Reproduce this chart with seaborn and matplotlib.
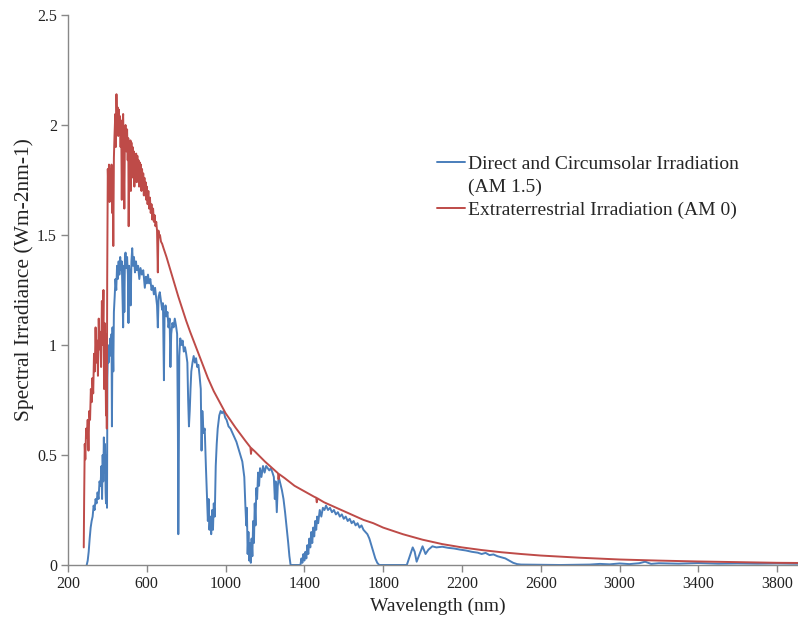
import matplotlib
matplotlib.use("Agg")
import matplotlib.pyplot as plt
import seaborn as sns
import pandas as pd
from matplotlib.lines import Line2D
from matplotlib.ticker import FuncFormatter

# Extraterrestrial irradiation (AM 0)
am0_wl = [280, 282, 285, 288, 292, 296, 300, 304, 308, 312, 316, 320, 324, 328, 332, 336,
          340, 344, 348, 352, 356, 360, 364, 368, 372, 376, 380, 383, 386, 390, 393, 395,
          397, 399, 402, 405, 408, 411, 414, 418, 421, 424, 427, 430, 433, 436, 440, 443,
          446, 449, 452, 455, 458, 461, 464, 467, 470, 473, 476, 480, 483, 486, 489, 492,
          496, 500, 503, 506, 508, 511, 514, 517, 519, 522, 525, 528, 531, 534, 537, 540,
          543, 546, 549, 552, 555, 558, 561, 564, 567, 570, 573, 576, 579, 582, 585, 588,
          591, 594, 597, 600, 604, 608, 612, 616, 620, 624, 628, 632, 636, 640, 644, 648,
          652, 656, 659, 663, 667, 672, 678, 685, 700, 720, 740, 760, 780, 800, 820, 850,
          880, 910, 940, 970, 1000, 1050, 1100, 1126, 1129, 1132, 1150, 1200, 1250, 1266, 1269, 1272,
          1300, 1350, 1400, 1450, 1460, 1463, 1466, 1500, 1550, 1600, 1650, 1700, 1750, 1800, 1900, 2000,
          2100, 2200, 2300, 2400, 2500, 2600, 2800, 3000, 3200, 3400, 3600, 3800, 3950]
am0_irr = [0.08, 0.30, 0.55, 0.48, 0.62, 0.58, 0.66, 0.52, 0.70, 0.66, 0.80, 0.74, 0.85, 0.78, 0.96, 0.88,
           1.08, 0.92, 1.02, 0.86, 1.12, 0.98, 1.06, 0.90, 1.20, 1.00, 1.25, 0.80, 1.10, 0.95, 0.68, 1.05,
           0.62, 1.30, 1.80, 1.70, 1.82, 1.65, 1.80, 1.72, 1.82, 1.60, 1.78, 1.45, 1.85, 1.95, 2.05, 1.90,
           2.14, 2.00, 2.08, 1.95, 2.07, 1.98, 2.04, 1.90, 2.02, 1.66, 1.98, 2.05, 1.85, 1.62, 1.96, 2.00,
           1.88, 1.98, 1.84, 1.94, 1.54, 1.90, 1.80, 1.93, 1.70, 1.92, 1.78, 1.90, 1.76, 1.88, 1.72, 1.86,
           1.78, 1.87, 1.74, 1.86, 1.78, 1.84, 1.72, 1.83, 1.76, 1.82, 1.70, 1.80, 1.73, 1.78, 1.68, 1.76,
           1.68, 1.74, 1.66, 1.72, 1.64, 1.70, 1.62, 1.67, 1.60, 1.64, 1.57, 1.62, 1.56, 1.59, 1.54, 1.56,
           1.52, 1.33, 1.52, 1.49, 1.50, 1.47, 1.46, 1.44, 1.40, 1.34, 1.28, 1.22, 1.165, 1.11, 1.06, 0.99,
           0.92, 0.85, 0.79, 0.74, 0.69, 0.625, 0.565, 0.535, 0.505, 0.53, 0.515, 0.47, 0.43, 0.417, 0.39, 0.413,
           0.395, 0.36, 0.335, 0.31, 0.306, 0.285, 0.303, 0.285, 0.265, 0.245, 0.225, 0.205, 0.19, 0.17, 0.14, 0.115,
           0.095, 0.08, 0.068, 0.058, 0.05, 0.043, 0.033, 0.025, 0.02, 0.016, 0.013, 0.01, 0.009]

# Direct and circumsolar irradiation (AM 1.5)
am15_wl = [295, 300, 305, 310, 315, 320, 325, 330, 335, 340, 345, 350, 355, 360, 365, 370,
           373, 376, 379, 382, 385, 388, 391, 393, 396, 398, 400, 403, 406, 409, 412, 415,
           418, 421, 423, 426, 430, 433, 437, 441, 445, 449, 453, 457, 461, 465, 469, 473,
           477, 480, 483, 486, 489, 492, 496, 500, 504, 507, 510, 515, 518, 522, 526, 530,
           535, 540, 545, 550, 556, 562, 568, 575, 582, 590, 595, 600, 606, 612, 618, 624,
           630, 636, 642, 648, 652, 656, 660, 666, 672, 678, 682, 687, 690, 695, 700, 705,
           710, 716, 720, 724, 730, 736, 742, 748, 754, 758, 760, 762, 765, 770, 776, 782,
           788, 794, 800, 806, 810, 814, 818, 822, 826, 832, 838, 844, 850, 856, 862, 868,
           874, 878, 882, 888, 894, 900, 906, 910, 914, 918, 922, 927, 932, 936, 940, 945,
           950, 955, 960, 968, 975, 982, 990, 998, 1005, 1015, 1025, 1035, 1045, 1055, 1065, 1075,
           1085, 1095, 1100, 1105, 1108, 1112, 1116, 1120, 1124, 1128, 1132, 1136, 1140, 1144, 1148, 1152,
           1156, 1160, 1165, 1170, 1175, 1182, 1190, 1198, 1206, 1214, 1222, 1230, 1238, 1245, 1250, 1254,
           1260, 1265, 1270, 1278, 1286, 1294, 1302, 1310, 1318, 1324, 1330, 1380, 1385, 1390, 1395, 1400,
           1405, 1410, 1415, 1420, 1425, 1430, 1435, 1440, 1445, 1450, 1455, 1460, 1465, 1470, 1478, 1486,
           1494, 1502, 1510, 1520, 1530, 1540, 1550, 1560, 1570, 1580, 1590, 1600, 1610, 1620, 1630, 1640,
           1650, 1660, 1670, 1680, 1690, 1700, 1710, 1720, 1730, 1740, 1750, 1760, 1770, 1780, 1920, 1935,
           1950, 1960, 1970, 1985, 2000, 2015, 2030, 2050, 2070, 2100, 2130, 2160, 2190, 2220, 2250, 2280,
           2300, 2320, 2340, 2360, 2380, 2400, 2420, 2440, 2460, 2480, 2500, 2700, 2850, 2900, 2950, 3000,
           3050, 3100, 3130, 3160, 3200, 3300, 3400, 3500, 3600, 3700, 3800, 3950]
am15_irr = [0.00, 0.02, 0.06, 0.12, 0.17, 0.20, 0.22, 0.27, 0.25, 0.30, 0.28, 0.33, 0.30, 0.38, 0.36, 0.45,
            0.30, 0.50, 0.38, 0.58, 0.42, 0.55, 0.33, 0.28, 0.50, 0.26, 0.85, 0.98, 0.92, 1.00, 0.95, 1.03,
            0.98, 1.05, 0.63, 1.08, 0.88, 1.15, 1.22, 1.30, 1.25, 1.36, 1.30, 1.38, 1.32, 1.40, 1.34, 1.38,
            1.20, 1.08, 1.36, 1.15, 1.39, 1.42, 1.35, 1.40, 1.32, 1.10, 1.36, 1.30, 1.18, 1.38, 1.44, 1.36,
            1.40, 1.33, 1.38, 1.34, 1.36, 1.30, 1.35, 1.32, 1.34, 1.26, 1.31, 1.28, 1.32, 1.28, 1.30, 1.25,
            1.27, 1.23, 1.26, 1.21, 1.18, 1.08, 1.22, 1.24, 1.20, 1.16, 1.19, 0.84, 1.12, 1.18, 1.13, 1.15,
            1.08, 1.12, 0.90, 1.05, 1.10, 1.08, 1.12, 1.09, 1.05, 0.60, 0.14, 0.40, 0.95, 1.03, 1.00, 1.02,
            0.97, 0.99, 0.96, 0.92, 0.75, 0.63, 0.70, 0.80, 0.88, 0.92, 0.95, 0.92, 0.94, 0.90, 0.91, 0.86,
            0.80, 0.52, 0.70, 0.60, 0.62, 0.45, 0.30, 0.20, 0.30, 0.16, 0.22, 0.14, 0.25, 0.16, 0.28, 0.22,
            0.45, 0.55, 0.62, 0.68, 0.70, 0.69, 0.70, 0.67, 0.66, 0.63, 0.62, 0.60, 0.58, 0.56, 0.53, 0.50,
            0.47, 0.40, 0.28, 0.18, 0.26, 0.05, 0.15, 0.02, 0.10, 0.01, 0.12, 0.04, 0.20, 0.10, 0.28, 0.18,
            0.35, 0.30, 0.42, 0.36, 0.44, 0.40, 0.45, 0.42, 0.45, 0.44, 0.43, 0.44, 0.42, 0.40, 0.30, 0.38,
            0.24, 0.36, 0.40, 0.37, 0.34, 0.30, 0.24, 0.17, 0.10, 0.04, 0.00, 0.00, 0.03, 0.01, 0.05, 0.02,
            0.06, 0.03, 0.09, 0.05, 0.12, 0.08, 0.15, 0.10, 0.17, 0.13, 0.20, 0.16, 0.22, 0.19, 0.25, 0.22,
            0.26, 0.25, 0.27, 0.25, 0.26, 0.24, 0.25, 0.23, 0.24, 0.22, 0.23, 0.21, 0.22, 0.20, 0.21, 0.19,
            0.20, 0.18, 0.19, 0.17, 0.18, 0.16, 0.15, 0.14, 0.12, 0.09, 0.06, 0.03, 0.01, 0.00, 0.00, 0.04,
            0.08, 0.06, 0.015, 0.05, 0.085, 0.05, 0.07, 0.085, 0.08, 0.083, 0.078, 0.075, 0.07, 0.066, 0.06, 0.056,
            0.05, 0.055, 0.045, 0.048, 0.04, 0.035, 0.03, 0.02, 0.01, 0.004, 0.002, 0.0, 0.002, 0.005, 0.003, 0.007,
            0.004, 0.008, 0.015, 0.005, 0.008, 0.006, 0.009, 0.006, 0.007, 0.006, 0.007, 0.005]

x_ticks = [200, 600, 1000, 1400, 1800, 2200, 2600, 3000, 3400, 3800]
y_ticks = [0, 0.5, 1, 1.5, 2, 2.5]

label_am15 = "Direct and Circumsolar Irradiation"
label_am15_2 = "(AM 1.5)"
label_am0 = "Extraterrestrial Irradiation (AM 0)"

blue = "#4a7ebb"
red = "#be4b48"
axis_grey = "#888888"

sns.set_style("white")
plt.rcParams["font.family"] = ["Liberation Serif", "DejaVu Serif"]

fig = plt.figure(figsize=(7.98, 6.19), dpi=100)
ax = fig.add_axes([68 / 798, 54 / 619, 730 / 798, 550 / 619])

df15 = pd.DataFrame({"wl": am15_wl, "irr": am15_irr})
df0 = pd.DataFrame({"wl": am0_wl, "irr": am0_irr})

sns.lineplot(data=df15, x="wl", y="irr", ax=ax, color=blue, lw=1.4, estimator=None, sort=False)
sns.lineplot(data=df0, x="wl", y="irr", ax=ax, color=red, lw=1.4, estimator=None, sort=False)

ax.set_xlim(200, 3906)
ax.set_ylim(0, 2.5)
ax.set_xticks(x_ticks)
ax.set_yticks(y_ticks)
ax.yaxis.set_major_formatter(FuncFormatter(lambda v, p: f"{v:g}"))
ax.tick_params(axis="both", direction="out", length=5, width=1, color=axis_grey,
               labelsize=11.5, labelcolor="#222222", pad=3)
ax.tick_params(axis="both", which="both", bottom=True, left=True)
for s in ["top", "right"]:
    ax.spines[s].set_visible(False)
for s in ["left", "bottom"]:
    ax.spines[s].set_color(axis_grey)
    ax.spines[s].set_linewidth(1.0)

ax.set_xlabel("Wavelength (nm)", fontsize=14, color="#222222")
ax.set_ylabel("Spectral Irradiance (Wm-2nm-1)", fontsize=15.5, color="#222222")
ax.xaxis.set_label_coords((438 - 68) / 730, -(598 - 565) / 550)
ax.yaxis.set_label_coords(-(68 - 34) / 730, (565 - 280) / 550)

handles = [Line2D([], [], color=blue, lw=1.4),
           Line2D([], [], color="none", lw=0),
           Line2D([], [], color=red, lw=1.4)]
leg = ax.legend(handles, [label_am15, label_am15_2, label_am0],
                loc="upper left", bbox_to_anchor=(437 / 798, 1 - 155 / 619),
                bbox_transform=fig.transFigure, frameon=False, fontsize=14,
                handlelength=1.45, handletextpad=0.12, labelspacing=0.28,
                borderaxespad=0, borderpad=0)

fig.savefig("out.png", dpi=100)
